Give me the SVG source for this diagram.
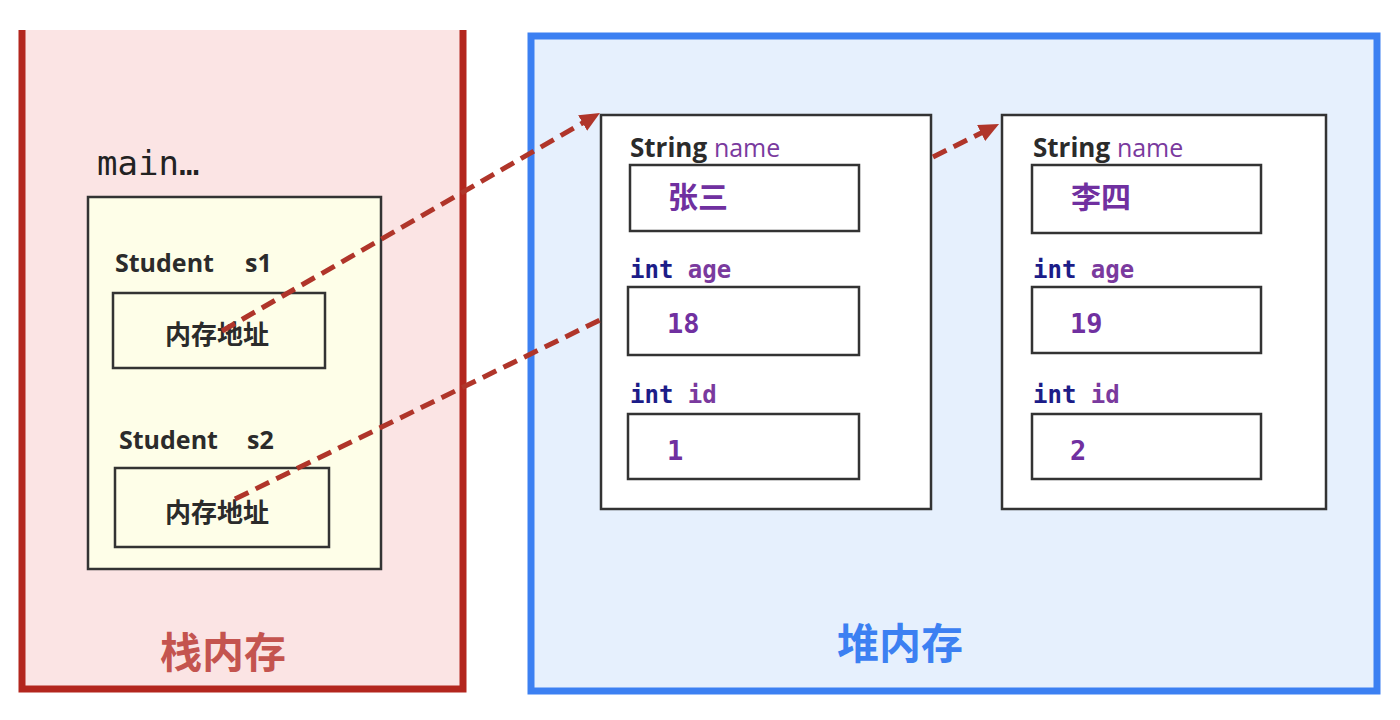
<svg xmlns="http://www.w3.org/2000/svg" width="1400" height="720" viewBox="0 0 1400 720">
<style>
.box{fill:#ffffff;stroke:#333333;stroke-width:2.5}
.ybox{fill:#fefee8;stroke:#333333;stroke-width:2.5}
.lbl{font-family:"Open Sans","Noto Sans",sans-serif;font-weight:bold;fill:#2b2b2b}
.cjk{font-family:"Noto Sans CJK SC",sans-serif;font-weight:bold}
.mono{font-family:"DejaVu Sans Mono","Liberation Mono",monospace}
.kw{fill:#1c1c88;font-weight:bold}
.var{fill:#7a3a9e}
.val{fill:#7030a0;font-weight:bold}
.conn{stroke:#b0352a;stroke-width:5;stroke-dasharray:15 8;fill:none}
</style>
<defs>
<marker id="ah" viewBox="0 0 20 18" refX="10" refY="9" markerWidth="20" markerHeight="18" markerUnits="userSpaceOnUse" orient="auto">
<path d="M0,0 L20,9 L0,18 z" fill="#b0352a"/>
</marker>
</defs>
<rect width="1400" height="720" fill="#ffffff"/>

<g id="stack">
<rect x="22" y="30" width="441" height="659" fill="#fbe4e4"/>
<path d="M22,30 V689 H463 V30" fill="none" stroke="#b3261e" stroke-width="7"/>
<text x="97" y="175" class="mono" font-size="34" fill="#222222">main…</text>
<text x="160" y="668" class="cjk" font-size="42" fill="#c4544f">栈内存</text>
</g>

<g id="main-frame">
<rect x="88" y="197" width="293" height="372" class="ybox"/>
</g>

<g id="s1">
<text x="115" y="272" class="lbl" font-size="25">Student</text>
<text x="245" y="272" class="lbl" font-size="25">s1</text>
<rect x="113" y="293" width="212" height="75" class="ybox"/>
<text x="217" y="344" class="cjk" font-size="26" fill="#2b2b2b" text-anchor="middle">内存地址</text>
</g>

<g id="s2">
<text x="119" y="449" class="lbl" font-size="25">Student</text>
<text x="247" y="449" class="lbl" font-size="25">s2</text>
<rect x="115" y="468" width="214" height="79" class="ybox"/>
<text x="217" y="522" class="cjk" font-size="26" fill="#2b2b2b" text-anchor="middle">内存地址</text>
</g>

<g id="heap">
<rect x="531" y="36" width="846" height="655" fill="#e6f0fd" stroke="#3c80f2" stroke-width="7"/>
<text x="837" y="659" class="cjk" font-size="42" fill="#3c80f2">堆内存</text>
</g>

<g id="obj1">
<rect x="601" y="115" width="330" height="394" class="box"/>
<text x="630" y="157" class="lbl" font-size="26">String <tspan class="var" font-weight="normal" font-size="25">name</tspan></text>
<rect x="630" y="165" width="229" height="66" class="box"/>
<text x="668" y="208" class="cjk val" font-size="30">张三</text>
<text x="630" y="278" class="mono kw" font-size="24">int <tspan class="var">age</tspan></text>
<rect x="628" y="287" width="231" height="68" class="box"/>
<text x="667" y="333" class="mono val" font-size="27">18</text>
<text x="630" y="403" class="mono kw" font-size="24">int <tspan class="var">id</tspan></text>
<rect x="628" y="414" width="231" height="65" class="box"/>
<text x="667" y="460" class="mono val" font-size="27">1</text>
</g>

<g id="obj2">
<rect x="1002" y="115" width="324" height="394" class="box"/>
<text x="1033" y="157" class="lbl" font-size="26">String <tspan class="var" font-weight="normal" font-size="25">name</tspan></text>
<rect x="1032" y="165" width="229" height="68" class="box"/>
<text x="1071" y="208" class="cjk val" font-size="30">李四</text>
<text x="1033" y="278" class="mono kw" font-size="24">int <tspan class="var">age</tspan></text>
<rect x="1032" y="287" width="229" height="66" class="box"/>
<text x="1070" y="333" class="mono val" font-size="27">19</text>
<text x="1033" y="403" class="mono kw" font-size="24">int <tspan class="var">id</tspan></text>
<rect x="1032" y="414" width="229" height="65" class="box"/>
<text x="1070" y="460" class="mono val" font-size="27">2</text>
</g>

<g id="connectors">
<line x1="222" y1="331" x2="591.3" y2="118" class="conn" marker-end="url(#ah)"/>
<line x1="235" y1="499" x2="600" y2="320" class="conn"/>
<line x1="933" y1="157" x2="990.1" y2="128.5" class="conn" marker-end="url(#ah)"/>
</g>
</svg>
